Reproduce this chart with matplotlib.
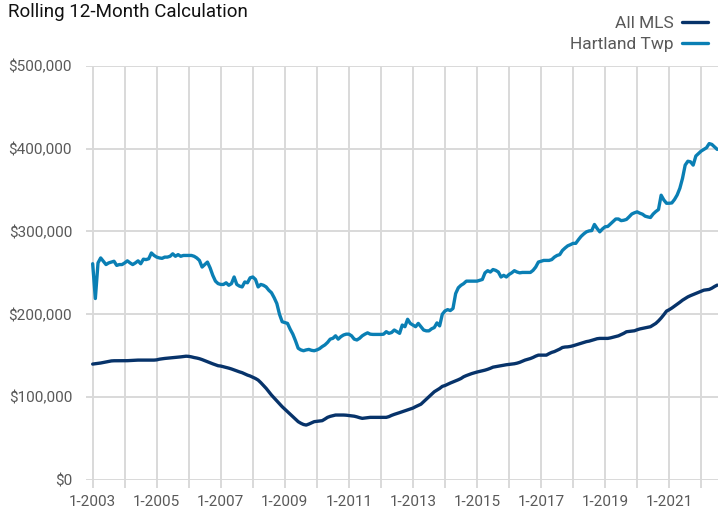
import matplotlib
matplotlib.use("Agg")
import matplotlib.pyplot as plt
from matplotlib.ticker import FuncFormatter
import numpy as np

# Monthly values (thousands of dollars), Jan 2003 .. Jul 2022
hartland_k = [
    # 2003
    261, 219, 262, 268, 264, 260, 262, 263, 264, 259, 260, 260,
    # 2004
    262, 264.5, 262, 260, 262, 264.5, 261, 266.5, 266, 267, 274, 271,
    # 2005
    269, 268, 267.5, 269, 269, 270, 273, 270, 272, 270, 271, 271,
    # 2006
    271, 271, 270, 268, 265, 257, 260, 263, 256, 247, 240, 237,
    # 2007
    236, 236, 238, 235, 237, 245, 236, 234, 233, 239, 238, 244,
    # 2008
    245, 242, 233, 236, 235, 233, 229, 226, 220, 213, 200, 191,
    # 2009
    190, 189, 182, 176, 168, 159, 157, 156, 157, 157.6, 156.5, 156,
    # 2010
    157, 158.5, 161, 163, 166, 170, 171, 174, 170, 173, 175, 176,
    # 2011
    176, 174, 170, 169, 171, 174, 176, 177.6, 176, 175.7, 175.7, 175.7,
    # 2012
    175.7, 176, 179, 177, 178, 181, 179, 177, 187, 185, 194, 189,
    # 2013
    187, 185, 189, 185, 181, 180, 180, 182.5, 184, 189.6, 186, 200,
    # 2014
    204, 205.6, 204.5, 207, 225, 232, 235, 237, 240, 240, 240, 240,
    # 2015
    240, 241, 242, 250, 252.6, 251, 254, 253, 251, 245, 247, 245,
    # 2016
    248, 250, 252.6, 251, 250, 250.5, 250.5, 250.5, 250.5, 253, 257, 263,
    # 2017
    264, 265, 265, 265, 266, 269, 271, 272, 277, 280, 282.6, 284,
    # 2018
    285.6, 285.6, 290, 294, 297, 299.5, 300.6, 301, 308.4, 303.6, 299.5, 303,
    # 2019
    305.6, 306, 309, 312, 315, 315, 313, 313.5, 314.5, 317.6, 321, 322.5,
    # 2020
    323.6, 322, 320.8, 318.4, 317.5, 316.8, 321, 324, 326.4, 343.7, 338, 334,
    # 2021
    334, 334.4, 338.5, 344, 352, 364, 380, 384.7, 384, 380, 391, 394,
    # 2022
    397, 399, 401, 406, 405, 402, 399,
]

all_mls_k = [
    # 2003
    139.9, 140.3, 140.6, 141.2, 141.8, 142.4, 143, 143.7, 143.9, 143.9, 143.9, 143.9,
    # 2004
    144, 144, 144.2, 144.3, 144.5, 144.7, 144.7, 144.7, 144.7, 144.7, 144.7, 144.7,
    # 2005
    145, 145.8, 146.3, 146.7, 147, 147.3, 147.6, 147.8, 148.2, 148.6, 149, 149.4,
    # 2006
    149.2, 148.6, 147.8, 147.2, 146.4, 145.3, 144, 142.6, 141.3, 140.2, 139, 137.9,
    # 2007
    137.5, 136.7, 136, 135, 134, 132.8, 131.5, 130.5, 129.5, 128, 126.6, 125.5,
    # 2008
    124, 122.5, 120.6, 117.5, 114, 110.6, 106.5, 102.5, 99, 95.5, 92, 88.5,
    # 2009
    85.5, 82.5, 79.6, 76.5, 73.5, 70.4, 68.5, 67, 66.3, 67.5, 69, 70.4,
    # 2010
    70.8, 71.2, 71.6, 73.5, 75.6, 76.8, 77.6, 78.4, 78.4, 78.4, 78.4, 78.2,
    # 2011
    77.8, 77.4, 77, 76.2, 75.2, 74.4, 74.8, 75.2, 75.6, 75.6, 75.6, 75.6,
    # 2012
    75.6, 75.6, 75.6, 76.5, 78, 79.2, 80.2, 81.3, 82.4, 83.5, 84.5, 85.6,
    # 2013
    86.8, 88.5, 90, 91.5, 94.5, 97.5, 100.5, 103.5, 106.5, 108.5, 110.5, 113,
    # 2014
    114, 115.5, 117, 118.3, 119.5, 121, 122.5, 124.6, 126, 127.2, 128.4, 129.4,
    # 2015
    130.3, 131, 131.8, 132.6, 133.6, 134.8, 136.2, 136.8, 137.3, 137.9, 138.6, 139.1,
    # 2016
    139.5, 139.9, 140.3, 141, 142, 143.4, 144.7, 145.6, 146.6, 147.9, 149.5, 150.7,
    # 2017
    150.7, 150.7, 150.7, 152.5, 154, 155, 156.5, 158, 159.9, 160.5, 160.7, 161.2,
    # 2018
    162, 163, 164, 165, 166, 167, 167.6, 168.5, 169.5, 170.5, 170.9, 170.9,
    # 2019
    170.9, 170.9, 171.5, 172.3, 173.2, 174, 175.5, 177, 178.9, 179.3, 179.7, 180.1,
    # 2020
    181.3, 182.3, 183, 183.7, 184.4, 185, 187, 189, 192, 195.5, 199.5, 203.8,
    # 2021
    205.5, 207.5, 209.8, 212, 214.5, 217, 219, 221, 222.5, 223.8, 225.1, 226.3,
    # 2022
    227.8, 229.1, 229.5, 230, 231.5, 233.5, 235.2,
]

start_year = 2003
years = list(range(2003, 2023))
tick_labels = [f"1-{y}" if (y - 2003) % 2 == 0 else "" for y in years]
series_names = ["All MLS", "Hartland Twp"]
colors = ["#07336a", "#0a7fb4"]

plt.rcParams["font.family"] = ["Roboto", "DejaVu Sans"]

fig = plt.figure(figsize=(7.18, 5.15), dpi=100)
ax = fig.add_axes([86 / 718, 1 - 480 / 515, 1 - 86 / 718, (480 - 65.7) / 515])

months = np.arange(len(all_mls_k))
ax.plot(months, np.array(all_mls_k) * 1000, color=colors[0], lw=2.4,
        label=series_names[0], solid_capstyle="round", zorder=3)
ax.plot(np.arange(len(hartland_k)), np.array(hartland_k) * 1000, color=colors[1],
        lw=2.4, label=series_names[1], solid_capstyle="round", zorder=3)

ax.set_xlim(-2.5, len(all_mls_k) - 1 + 0.3)
ax.set_ylim(0, 500000)
ax.set_yticks(np.arange(0, 500001, 100000))
ax.yaxis.set_major_formatter(FuncFormatter(lambda v, p: f"${int(v):,}"))
ax.set_xticks([(y - start_year) * 12 for y in years])
ax.set_xticklabels(tick_labels)

grid_c = "#d9d9d9"
ax.grid(True, color=grid_c, lw=1.4, zorder=0)
ax.set_axisbelow(True)
for s in ax.spines.values():
    s.set_visible(False)
ax.tick_params(axis="y", length=0, pad=10, labelsize=11, labelcolor="#595959")
ax.tick_params(axis="x", length=6, width=1.4, color=grid_c, pad=5,
               labelsize=11, labelcolor="#595959")

fig.text(8 / 718, 1 - 12 / 515, "Rolling 12-Month Calculation", fontsize=13.5,
         color="#111111", ha="left", va="center")

fig.legend(loc="upper right", bbox_to_anchor=(1.0, 0.99), frameon=False,
           markerfirst=False, fontsize=12.5, labelcolor="#595959",
           handlelength=1.5, handletextpad=0.45, labelspacing=0.38,
           borderaxespad=0.2)

fig.savefig("out.png", dpi=100)
